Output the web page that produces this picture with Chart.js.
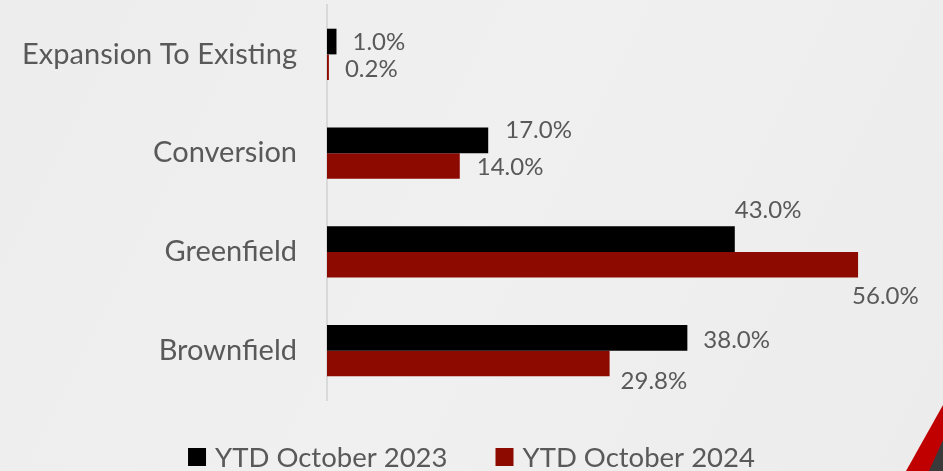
<!DOCTYPE html>
<html>
<head>
<meta charset="utf-8">
<script src="https://cdn.jsdelivr.net/npm/chart.js@4.4.1/dist/chart.umd.min.js"></script>
<style>
  html, body { margin: 0; padding: 0; }
  body { width: 943px; height: 471px; overflow: hidden; background: #eeeeee; }
  #wrap { position: relative; width: 943px; height: 471px; }
</style>
</head>
<body>
<div id="wrap"><canvas id="barChart" width="943" height="471"></canvas></div>
<script>
const categories = ['Expansion To Existing', 'Conversion', 'Greenfield', 'Brownfield'];
const seriesNames = ['YTD October 2023', 'YTD October 2024'];
const values2023 = [1.0, 17.0, 43.0, 38.0];
const values2024 = [0.2, 14.0, 56.0, 29.8];

// label offsets from the bar end, per bar (style only)
const labelShift = [
    [[16, 1], [17, -10], [0, -29], [16, 2]],
    [[16, 2], [17, 1], [-6, 32], [11, 18]]
];

const textColor = '#595959';

const backdrop = {
    id: 'backdrop',
    beforeDraw(chart) {
        const c = chart.ctx, w = chart.width, h = chart.height;
        c.save();
        let g = c.createLinearGradient(0, 0, w, h);
        g.addColorStop(0, '#ededed');
        g.addColorStop(0.5, '#f0f0f0');
        g.addColorStop(1, '#ececec');
        c.fillStyle = g;
        c.fillRect(0, 0, w, h);
        // red corner
        c.fillStyle = '#c00000';
        c.beginPath();
        c.moveTo(w, 405);
        c.lineTo(w, h);
        c.lineTo(906, h);
        c.closePath();
        c.fill();
        c.fillStyle = '#3a3a3a';
        c.beginPath();
        c.moveTo(w, 440);
        c.lineTo(w, h);
        c.lineTo(929, h);
        c.closePath();
        c.fill();
        c.restore();
    }
};

const barLabels = {
    id: 'barLabels',
    afterDatasetsDraw(chart) {
        const c = chart.ctx;
        c.save();
        c.font = '24px Lato';
        c.fillStyle = textColor;
        c.textAlign = 'left';
        c.textBaseline = 'middle';
        chart.data.datasets.forEach((ds, i) => {
            chart.getDatasetMeta(i).data.forEach((bar, j) => {
                const s = labelShift[i][j];
                c.fillText(ds.data[j].toFixed(1) + '%', bar.x + s[0], bar.y + s[1]);
            });
        });
        c.restore();
    }
};

// legend drawn by hand so it can sit exactly like the slide
const bottomLegend = {
    id: 'bottomLegend',
    afterDraw(chart) {
        const c = chart.ctx;
        const box = 18, gapText = 9, gapItem = 48, midY = 457;
        c.save();
        c.font = '27.5px Lato';
        c.textBaseline = 'middle';
        c.textAlign = 'left';
        const sets = chart.data.datasets;
        let total = 0;
        sets.forEach((ds, i) => {
            total += box + gapText + c.measureText(ds.label).width;
            if (i < sets.length - 1) total += gapItem;
        });
        let x = chart.width / 2 - total / 2;
        sets.forEach(ds => {
            c.fillStyle = ds.backgroundColor;
            c.fillRect(x, midY - box / 2, box, box);
            x += box + gapText;
            c.fillStyle = textColor;
            c.fillText(ds.label, x, midY + 1);
            x += c.measureText(ds.label).width + gapItem;
        });
        c.restore();
    }
};

let ctx = document.getElementById('barChart').getContext('2d');
let myChart = new Chart(ctx, {
    type: 'bar',
    data: {
        labels: categories,
        datasets: [{
            label: seriesNames[0],
            data: values2023,
            backgroundColor: '#000000',
            categoryPercentage: 0.52,
            barPercentage: 1.0
        }, {
            label: seriesNames[1],
            data: values2024,
            backgroundColor: '#8c0a00',
            categoryPercentage: 0.52,
            barPercentage: 1.0
        }]
    },
    options: {
        indexAxis: 'y',
        responsive: false,
        animation: false,
        layout: { padding: { top: 5, right: 47, left: 0, bottom: 71 } },
        scales: {
            x: {
                display: false,
                min: 0,
                max: 60
            },
            y: {
                grid: { display: false, drawTicks: false },
                border: { display: true, color: '#d9d9d9', width: 2 },
                ticks: {
                    color: textColor,
                    font: { family: 'Lato', size: 29 },
                    padding: 30
                },
                afterFit(scale) {
                    scale.width = 327;
                    scale.paddingTop = 0;
                    scale.paddingBottom = 0;
                }
            }
        },
        plugins: {
            legend: { display: false },
            tooltip: { enabled: false }
        }
    },
    plugins: [backdrop, barLabels, bottomLegend]
});
</script>
</body>
</html>
